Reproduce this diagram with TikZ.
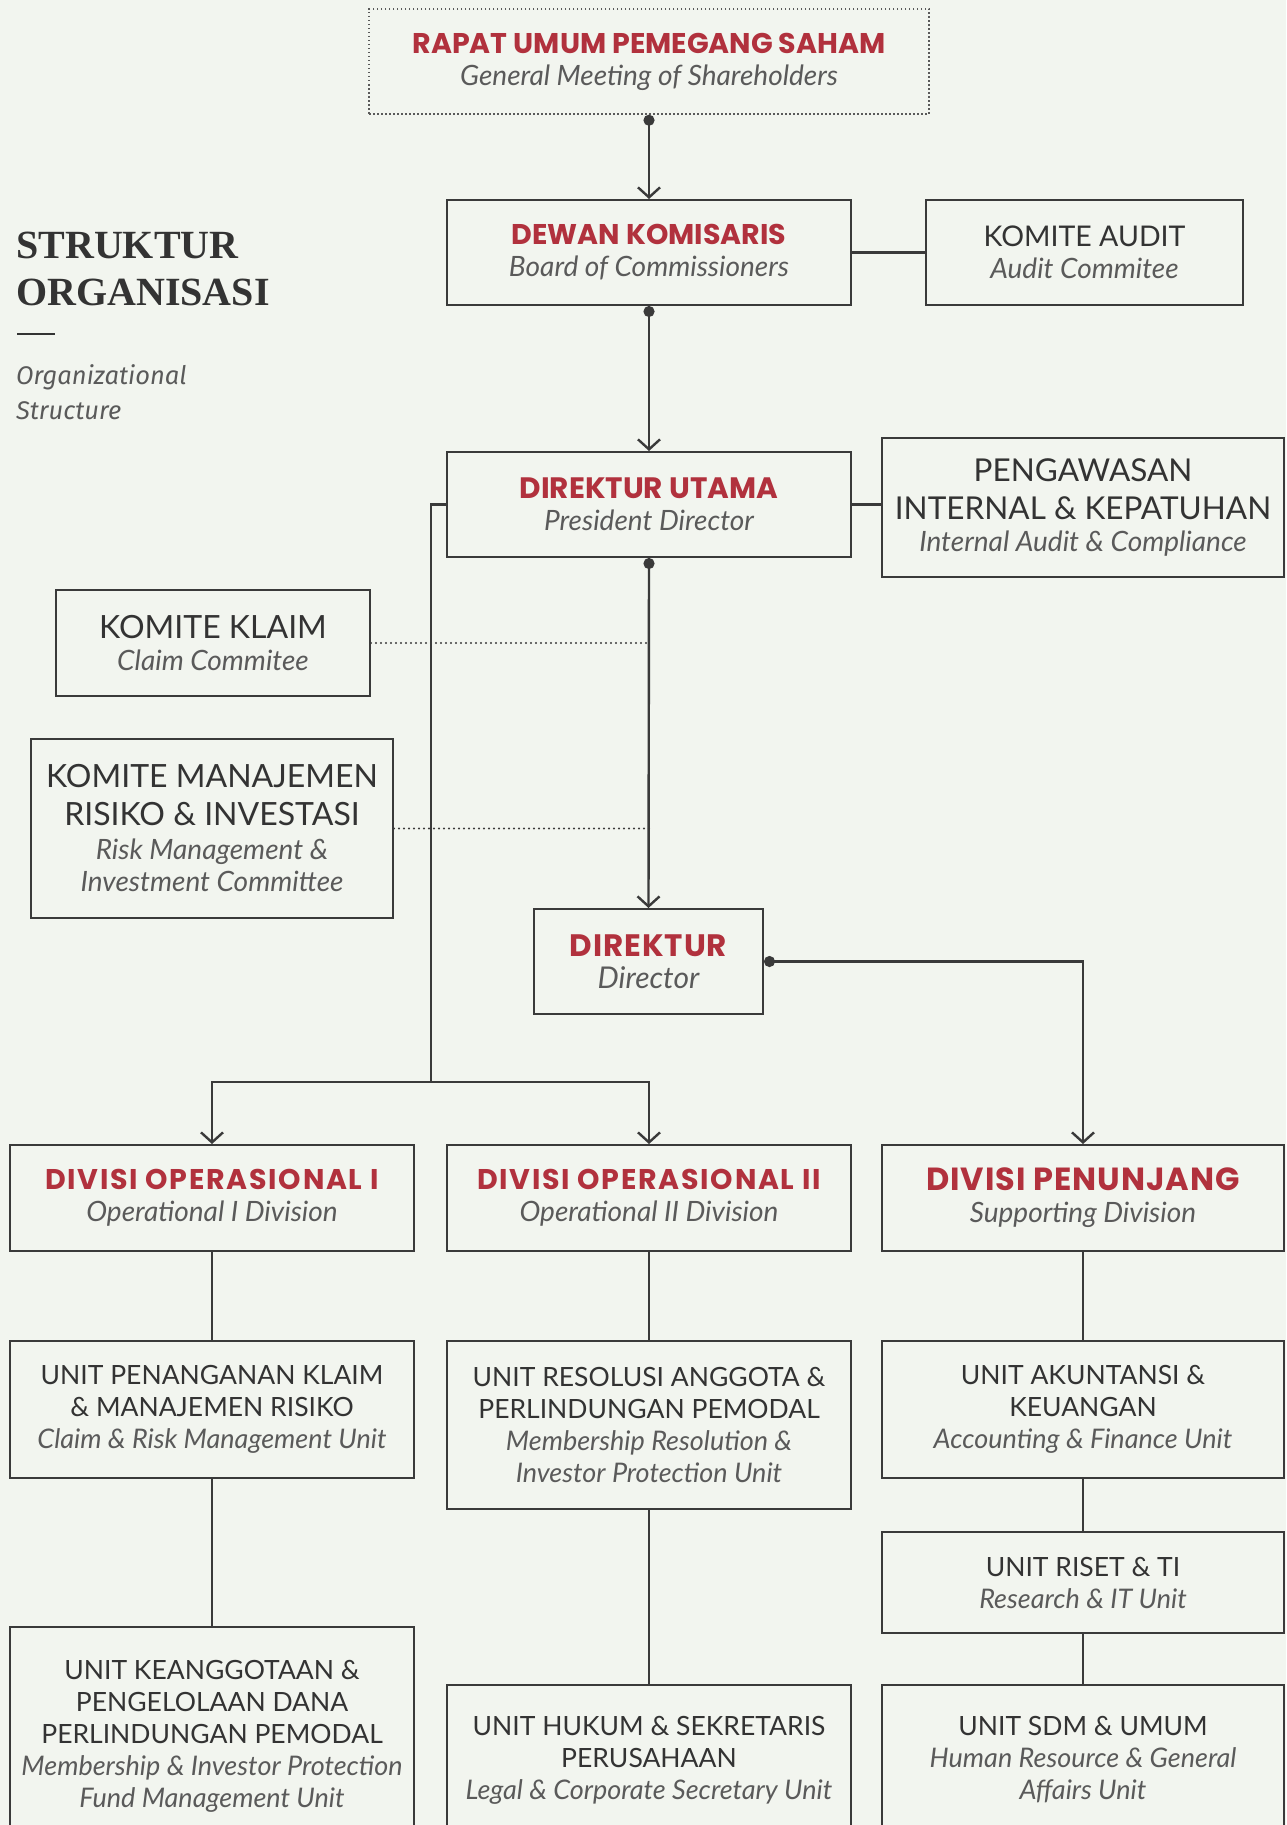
\documentclass[tikz,border=0pt]{standalone}
\usepackage{fontspec}
\setmainfont{Lato}
\newfontfamily\headfont{Poppins}
\newfontfamily\serifhead{Liberation Serif}
\newfontfamily\notefont{Fira Sans}
\usetikzlibrary{arrows.meta}
\definecolor{bgcol}{HTML}{F2F5EF}
\definecolor{redcol}{HTML}{B1313D}
\definecolor{inkcol}{HTML}{333333}
\definecolor{linecol}{HTML}{3A3A3A}
\definecolor{subcol}{HTML}{5A5A5A}
% one macro per line of box text
\newcommand\rtitle[2][28.5]{{\headfont\bfseries\fontsize{#1}{32}\selectfont\color{redcol}#2}}
\newcommand\itsub[2][27]{{\itshape\fontsize{#1}{32}\selectfont\color{subcol}#2}}
\newcommand\captext[2][26.5]{{\fontsize{#1}{32}\selectfont\color{inkcol}#2}}
\newcommand\spread[1]{\addfontfeatures{LetterSpace=#1}}
\begin{document}
\begin{tikzpicture}
  [x=1pt,y=-1pt,
  orgbox/.style={draw=linecol,line width=2pt,fill=bgcol,inner sep=0pt,
    align=center,minimum width=404pt,minimum height=105pt,
    font=\fontsize{23}{32}\selectfont},
  meetbox/.style={orgbox,draw=subcol,line width=1.5pt,dash pattern=on 1.5pt off 2.5pt,
    minimum width=560pt},
  link/.style={draw=linecol,line width=2.4pt},
  tolink/.style={link,-{Straight Barb[length=10pt,width=22pt,line width=2.4pt]}},
  dotlink/.style={link,{Circle[length=11pt]}-{Straight Barb[length=10pt,width=22pt,line width=2.4pt]}},
  adlink/.style={draw=linecol,line width=2.2pt,dash pattern=on 0pt off 5pt,line cap=round}]
  \useasboundingbox (0,0) rectangle (1286,1825);
  \clip (0,0) rectangle (1286,1825);
  \fill[bgcol] (0,0) rectangle (1286,1825);

  % heading
  \node (head) at (16,305) [anchor=base west,align=left,inner sep=0pt,
    font=\serifhead\bfseries\fontsize{40}{47}\selectfont,text=inkcol]
    {STRUKTUR\\ORGANISASI};
  \draw[inkcol,line width=1.2pt] (17,334) -- (55,334);
  \node (headsub) at (16,419) [anchor=base west,align=left,inner sep=0pt,
    font=\notefont\itshape\fontsize{25.5}{35}\selectfont,text=subcol]
    {Organizational\\Structure};

  % top
  \node (rups) at (649,61.5) [meetbox]
    {\rtitle[28.5]{RAPAT UMUM PEMEGANG SAHAM}\\\itsub[28]{General Meeting of Shareholders}};
  \node (dk) at (649,252.5) [orgbox]
    {\rtitle[28.5]{DEWAN KOMISARIS}\\\itsub[28]{Board of Commissioners}};
  \node (ka) at (1084.5,252.5) [orgbox,minimum width=317pt]
    {\captext[28.5]{KOMITE AUDIT}\\\itsub[28]{Audit Commitee}};
  \node (du) at (649,504.5) [orgbox]
    {\rtitle[29.5]{DIREKTUR UTAMA}\\\itsub[28]{President Director}};
  \node (pi) at (1083,507.5) [orgbox,minimum width=402pt,minimum height=139pt]
    {\captext[31.5]{PENGAWASAN}\\[6pt]\captext[31.5]{INTERNAL \& KEPATUHAN}\\\itsub[28]{Internal Audit \& Compliance}};
  \node (kk) at (213,643) [orgbox,minimum width=314pt,minimum height=106pt]
    {\captext[32]{KOMITE KLAIM}\\\itsub[28]{Claim Commitee}};
  \node (kmr) at (212,828.5) [orgbox,minimum width=362pt,minimum height=179pt]
    {\captext[32]{KOMITE MANAJEMEN}\\[6pt]\captext[32]{RISIKO \& INVESTASI}\\[2pt]
     \itsub[28]{Risk Management \&}\\\itsub[28]{Investment Committee}};
  \node (dir) at (648.5,961.5) [orgbox,minimum width=229pt]
    {\rtitle[31]{\spread{3}DIREKTUR}\\\itsub[30]{Director}};

  % divisions
  \node (d1) at (212,1198) [orgbox,minimum height=106pt]
    {\rtitle[28.5]{\spread{6}DIVISI OPERASIONAL I}\\\itsub[28]{Operational I Division}};
  \node (d2) at (649,1198) [orgbox,minimum height=106pt]
    {\rtitle[28.5]{\spread{6}DIVISI OPERASIONAL II}\\\itsub[28]{Operational II Division}};
  \node (d3) at (1083,1198) [orgbox,minimum width=402pt,minimum height=106pt]
    {\rtitle[32]{\spread{3}DIVISI PENUNJANG}\\\itsub[28]{Supporting Division}};

  % units
  \node (u1a) at (212,1409.5) [orgbox,minimum height=137pt]
    {\captext{UNIT PENANGANAN KLAIM}\\\captext{\& MANAJEMEN RISIKO}\\\itsub{Claim \& Risk Management Unit}};
  \node (u1b) at (212,1736) [orgbox,minimum height=218pt]
    {\captext{UNIT KEANGGOTAAN \&}\\\captext{PENGELOLAAN DANA}\\\captext{PERLINDUNGAN PEMODAL}\\
     \itsub{Membership \& Investor Protection}\\\itsub{Fund Management Unit}};
  \node (u2a) at (649,1425) [orgbox,minimum height=168pt]
    {\captext{UNIT RESOLUSI ANGGOTA \&}\\\captext{PERLINDUNGAN PEMODAL}\\
     \itsub{Membership Resolution \&}\\\itsub{Investor Protection Unit}};
  \node (u2b) at (649,1760) [orgbox,minimum height=150pt]
    {\captext{UNIT HUKUM \& SEKRETARIS}\\\captext{PERUSAHAAN}\\\itsub{Legal \& Corporate Secretary Unit}};
  \node (u3a) at (1083,1409.5) [orgbox,minimum width=402pt,minimum height=137pt]
    {\captext{UNIT AKUNTANSI \&}\\\captext{KEUANGAN}\\\itsub{Accounting \& Finance Unit}};
  \node (u3b) at (1083,1582.5) [orgbox,minimum width=402pt,minimum height=101pt]
    {\captext{UNIT RISET \& TI}\\\itsub{Research \& IT Unit}};
  \node (u3c) at (1083,1760) [orgbox,minimum width=402pt,minimum height=150pt]
    {\captext{UNIT SDM \& UMUM}\\\itsub{Human Resource \& General}\\\itsub{Affairs Unit}};

  % connectors
  \draw[dotlink] (rups.south) -- (dk.north);
  \draw[link] (dk.east) -- (ka.west);
  \draw[dotlink] (dk.south) -- (du.north);
  \draw[link] (du.east) -- (du.east -| pi.west);
  \draw[dotlink] (du.south) -- (dir.north);
  \draw[adlink] (kk.east) -- (kk.east -| du.south);
  \draw[adlink] (kmr.east) -- (kmr.east -| du.south);
  \coordinate (split) at (431,1082);
  \draw[link] (du.west) -| (split);
  \draw[tolink] (split) -| (d1.north);
  \draw[tolink] (split) -| (d2.north);
  \draw[dotlink] (dir.east) -| (d3.north);
  \draw[link] (d1) -- (u1a) -- (u1b);
  \draw[link] (d2) -- (u2a) -- (u2b);
  \draw[link] (d3) -- (u3a) -- (u3b) -- (u3c);
\end{tikzpicture}
\end{document}
